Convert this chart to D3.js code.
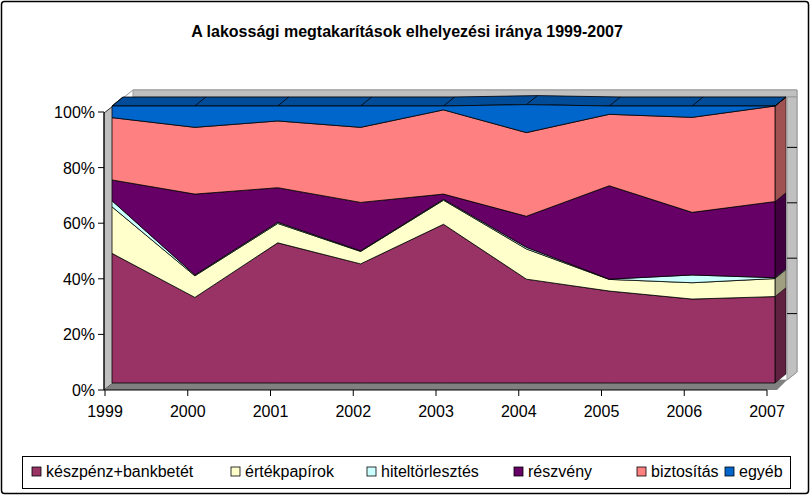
<!DOCTYPE html>
<html><head><meta charset="utf-8">
<script src="https://cdn.jsdelivr.net/npm/d3@7"></script>
<style>body{margin:0;background:#fff}svg{font-family:Arial,"Liberation Sans",sans-serif}</style>
</head><body>
<script>
// data (percent shares per year)
const years = [1999, 2000, 2001, 2002, 2003, 2004, 2005, 2006, 2007];
const keszpenz = [46.8, 30.9, 50.6, 43.0, 57.3, 37.5, 33.2, 30.3, 31.2];
const ertekpapir = [16.8, 7.8, 7.0, 4.5, 8.7, 10.9, 4.2, 5.9, 6.5];
const hitel = [2.2, 0.3, 0.4, 0.2, 0.3, 0.6, 0.1, 2.8, 0.3];
const reszveny = [7.5, 29.2, 12.5, 17.5, 1.9, 11.2, 33.7, 22.6, 27.5];
const biztositas = [22.5, 24.1, 24.1, 27.1, 30.4, 30.2, 25.8, 34.3, 34.5];
const egyeb = [4.2, 7.7, 5.4, 7.7, 1.4, 10.1, 3.0, 4.1, 0.0];
const seriesNames = ["készpénz+bankbetét", "értékpapírok", "hiteltörlesztés", "részvény", "biztosítás", "egyéb"];
const seriesColors = ["#993366", "#ffffcc", "#ccffff", "#660066", "#ff8080", "#0066cc"];
const yTicks = [0, 20, 40, 60, 80, 100];

const W = 812, H = 498;
const svg = d3.select("body").append("svg").attr("width", W).attr("height", H);
svg.append("rect").attr("x", 1.5).attr("y", 1.5).attr("width", 807).attr("height", 492)
  .attr("rx", 3).attr("fill", "#fff").attr("stroke", "#000").attr("stroke-width", 1.5);

svg.append("text").attr("x", 407).attr("y", 37).attr("text-anchor", "middle")
  .attr("font-size", 16).attr("font-weight", "bold").text("A lakossági megtakarítások elhelyezési iránya 1999-2007");

const rows = years.map((y, i) => ({year: y, s0: keszpenz[i], s1: ertekpapir[i], s2: hitel[i], s3: reszveny[i], s4: biztositas[i], s5: egyeb[i]}));
const keys = ["s0", "s1", "s2", "s3", "s4", "s5"];
const stack = d3.stack().keys(keys)(rows);

// front plane of data
const x = d3.scaleLinear().domain([1999, 2007]).range([112, 775]);
const y = d3.scaleLinear().domain([0, 100]).range([383, 106]);
// axis plane
const xa = d3.scaleLinear().domain([1999, 2007]).range([105, 767]);
const ya = d3.scaleLinear().domain([0, 100]).range([390, 112]);
const dep = [11, -9];

// walls
svg.append("path").attr("d", "M113,106 L133,90 L797,90 L797,372 L787,380 L113,383 Z")
  .attr("fill", "#fff").attr("stroke", "#999");
svg.append("path").attr("d", "M133,90 L797,90 L797,97 L133,97 Z").attr("fill", "#c0c0c0").attr("stroke", "#999");
svg.append("path").attr("d", "M787,97 L797,97 L797,372 L787,380 Z").attr("fill", "#c0c0c0").attr("stroke", "#999");
svg.append("path").attr("d", "M104,113 L113,106 L113,383 L104,390 Z").attr("fill", "#c0c0c0").attr("stroke", "#000").attr("stroke-width", 0.8);
svg.append("path").attr("d", "M104,390 L113,383 L787,380 L777,390 Z").attr("fill", "#808080");
// right wall ticks
yTicks.slice(1, 5).forEach(t => {
  svg.append("line").attr("x1", 787).attr("x2", 797).attr("y1", y(t) - 14).attr("y2", y(t) - 14).attr("stroke", "#000");
});

// right end faces
const xe = x(2007);
stack.forEach((s, k) => {
  const d = s[s.length - 1];
  svg.append("path")
    .attr("d", `M${xe},${y(d[0])} L${xe + dep[0]},${y(d[0]) + dep[1]} L${xe + dep[0]},${y(d[1]) + dep[1]} L${xe},${y(d[1])} Z`)
    .attr("fill", d3.color(seriesColors[k]).darker(1.3)).attr("stroke", "#000").attr("stroke-width", 0.5);
});

// top surface of stack
const topLayer = stack[stack.length - 1];
const topPts = topLayer.map(d => [x(d.data.year), y(d[1])]);
const backPts = topPts.map(p => [p[0] + dep[0], p[1] + dep[1]]).reverse();
svg.append("path").attr("d", "M" + topPts.concat(backPts).join("L") + "Z")
  .attr("fill", "#004c99").attr("stroke", "#000").attr("stroke-width", 0.8);
topPts.forEach(p => svg.append("line").attr("x1", p[0]).attr("y1", p[1]).attr("x2", p[0] + dep[0]).attr("y2", p[1] + dep[1])
  .attr("stroke", "#000").attr("stroke-width", 0.8));

// front faces
const area = d3.area().x(d => x(d.data.year)).y0(d => y(d[0])).y1(d => y(d[1]));
svg.selectAll(".layer").data(stack).join("path")
  .attr("d", area).attr("fill", (d, i) => seriesColors[i])
  .attr("stroke", "#000").attr("stroke-width", 0.8);

// axes
svg.append("line").attr("x1", 104).attr("x2", 104).attr("y1", ya(100)).attr("y2", ya(0)).attr("stroke", "#000");
yTicks.forEach(t => {
  svg.append("line").attr("x1", 98).attr("x2", 104).attr("y1", ya(t)).attr("y2", ya(t)).attr("stroke", "#000");
  svg.append("text").attr("x", 95).attr("y", ya(t) + 6).attr("text-anchor", "end").attr("font-size", 16).text(t + "%");
});
svg.append("line").attr("x1", 104).attr("x2", xa(2007)).attr("y1", 390).attr("y2", 390).attr("stroke", "#000");
years.forEach(yr => {
  svg.append("line").attr("x1", xa(yr)).attr("x2", xa(yr)).attr("y1", 390).attr("y2", 396).attr("stroke", "#000");
  svg.append("text").attr("x", xa(yr)).attr("y", 417).attr("text-anchor", "middle").attr("font-size", 16).text(yr);
});

// legend
svg.append("rect").attr("x", 22.5).attr("y", 456.5).attr("width", 768).attr("height", 32).attr("fill", "#fff").attr("stroke", "#000");
const legX = [32, 231, 367, 514, 637, 725];
seriesNames.forEach((n, i) => {
  const g = svg.append("g").attr("transform", `translate(${legX[i]},472)`);
  g.append("rect").attr("x", 0).attr("y", -5).attr("width", 9).attr("height", 9).attr("fill", seriesColors[i]).attr("stroke", "#000").attr("stroke-width", 0.8);
  g.append("text").attr("x", 14).attr("y", 5).attr("font-size", 16).text(n);
});
</script>
</body></html>
